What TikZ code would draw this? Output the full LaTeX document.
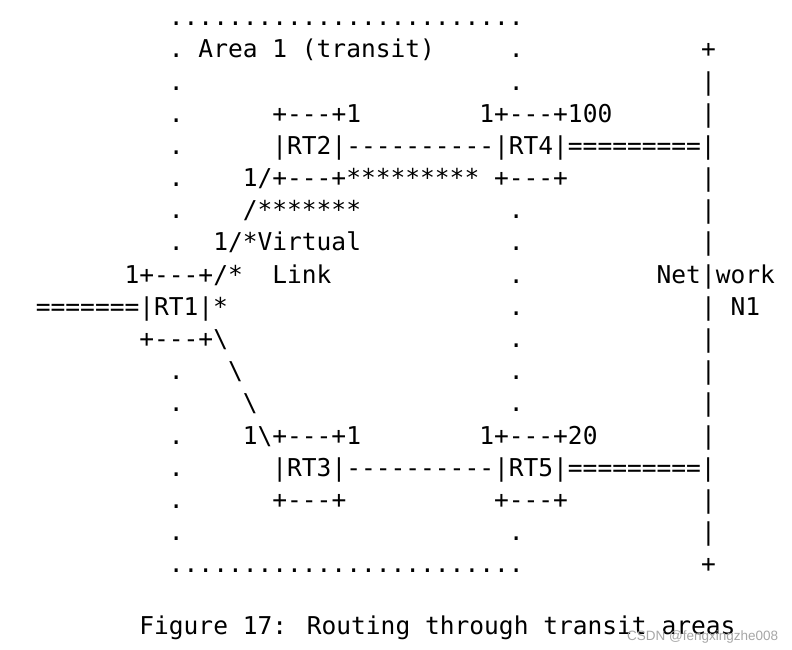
\documentclass[tikz,border=0pt]{standalone}
\usepackage{fontspec}
\newfontfamily\asciifont{DejaVu Sans Mono}
\newfontfamily\markfont{Liberation Sans}
% character grid: column pitch and line pitch (pt)
\def\colw{14.78}
\def\rowh{32.17}
\def\xzero{35.9}
\def\yzero{25.8}
\tikzset{
  cell/.style={anchor=base west, inner sep=0pt, outer sep=0pt,
    font=\asciifont\fontsize{24.55}{28}\selectfont, text=black},
  stamp/.style={anchor=west, inner sep=0pt,
    font=\markfont\fontsize{13.5}{15}\selectfont, text=black!35}
}
% \cellat{name}{column}{row}{text}
\newcommand\cellat[4]{%
  \node[cell] (#1) at ({\xzero+#2*\colw},{-(\yzero+(#3-1)*\rowh)}) {#4};}
\begin{document}
\begin{tikzpicture}[x=1pt,y=1pt]
\useasboundingbox (0,0) rectangle (792,-650);
% area 1 border, top
\cellat{atop}{9}{1}{........................}
\cellat{al2}{9}{2}{.}
\cellat{area}{11}{2}{Area 1 (transit)}
\cellat{ar2}{32}{2}{.}
\cellat{ntop}{45}{2}{+}
\cellat{al3}{9}{3}{.}
\cellat{ar3}{32}{3}{.}
\cellat{n3}{45}{3}{|}
% RT2 and RT4
\cellat{al4}{9}{4}{.}
\cellat{rtwotop}{16}{4}{+---+1}
\cellat{rfourtop}{30}{4}{1+---+100}
\cellat{n4}{45}{4}{|}
\cellat{al5}{9}{5}{.}
\cellat{rtworow}{16}{5}{|RT2|----------|RT4|=========|}
\cellat{al6}{9}{6}{.}
\cellat{rtwobot}{14}{6}{1/+---+*********}
\cellat{rfourbot}{31}{6}{+---+}
\cellat{n6}{45}{6}{|}
% virtual link
\cellat{al7}{9}{7}{.}
\cellat{vl7}{14}{7}{/*******}
\cellat{ar7}{32}{7}{.}
\cellat{n7}{45}{7}{|}
\cellat{al8}{9}{8}{.}
\cellat{vl8}{12}{8}{1/*Virtual}
\cellat{ar8}{32}{8}{.}
\cellat{n8}{45}{8}{|}
% RT1
\cellat{ronetop}{6}{9}{1+---+/*}
\cellat{link}{16}{9}{Link}
\cellat{ar9}{32}{9}{.}
\cellat{net}{42}{9}{Net|work}
\cellat{ronerow}{0}{10}{=======|RT1|*}
\cellat{ar10}{32}{10}{.}
\cellat{n10}{45}{10}{|}
\cellat{nname}{47}{10}{N1}
\cellat{ronebot}{7}{11}{+---+\textbackslash}
\cellat{ar11}{32}{11}{.}
\cellat{n11}{45}{11}{|}
\cellat{al12}{9}{12}{.}
\cellat{s12}{13}{12}{\textbackslash}
\cellat{ar12}{32}{12}{.}
\cellat{n12}{45}{12}{|}
\cellat{al13}{9}{13}{.}
\cellat{s13}{14}{13}{\textbackslash}
\cellat{ar13}{32}{13}{.}
\cellat{n13}{45}{13}{|}
% RT3 and RT5
\cellat{al14}{9}{14}{.}
\cellat{rthreetop}{14}{14}{1\textbackslash+---+1}
\cellat{rfivetop}{30}{14}{1+---+20}
\cellat{n14}{45}{14}{|}
\cellat{al15}{9}{15}{.}
\cellat{rthreerow}{16}{15}{|RT3|----------|RT5|=========|}
\cellat{al16}{9}{16}{.}
\cellat{rthreebot}{16}{16}{+---+}
\cellat{rfivebot}{31}{16}{+---+}
\cellat{n16}{45}{16}{|}
\cellat{al17}{9}{17}{.}
\cellat{ar17}{32}{17}{.}
\cellat{n17}{45}{17}{|}
% area 1 border, bottom
\cellat{abot}{9}{18}{........................}
\cellat{nbot}{45}{18}{+}
% caption
\node[cell] (caption) at ({\xzero+7*\colw},-634) {Figure 17: Routing through transit areas};
\node[stamp] (mark) at (627,-637) {CSDN @fengxingzhe008};
\end{tikzpicture}
\end{document}
